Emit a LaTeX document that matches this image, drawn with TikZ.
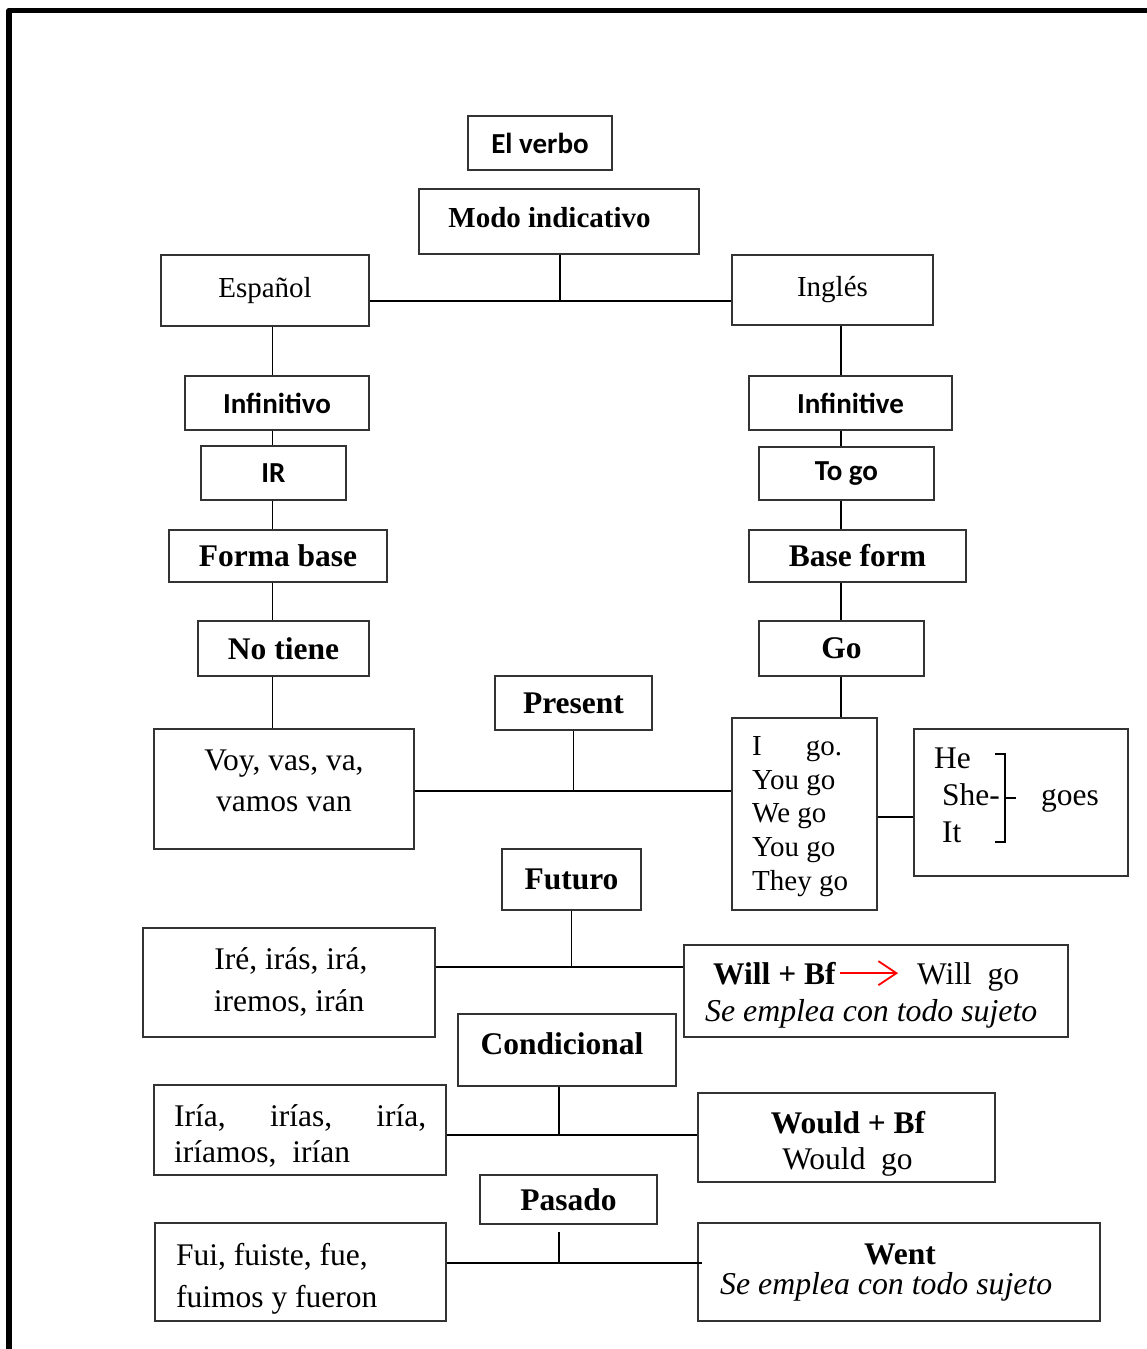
\documentclass[tikz,border=0pt]{standalone}
\usepackage{fontspec}
\setmainfont{Liberation Serif}
\newfontfamily\carlito{Carlito}
\usetikzlibrary{arrows.meta}

\begin{document}
\begin{tikzpicture}[x=1pt,y=-1pt]
        \tikzset{
            caja/.style={draw=black!80,line width=1.3pt,inner sep=0pt},
            texto/.style={inner sep=0pt},
            letra/.style={font=\fontsize{29}{34}\selectfont},
            letra grande/.style={font=\fontsize{31.5}{38}\selectfont},
            negrita/.style={font=\fontsize{31.5}{38}\selectfont\bfseries},
            negrita chica/.style={font=\fontsize{29}{34}\selectfont\bfseries},
            sans negrita/.style={font=\fontsize{29}{34}\selectfont\carlito\bfseries},
            cursiva/.style={font=\fontsize{31.8}{38}\selectfont\itshape},
            linea/.style={line width=1.8pt},
            flecha/.style={red,line width=1.8pt,-{Straight Barb[length=18pt,width=24pt]}}
        };
        \useasboundingbox (0,0) rectangle (1147,1349);
        % marco
        \draw[line width=5.5pt,line join=round] (9,1349) -- (9,10.5) -- (1147,10.5);

        % arriba
        \node[caja,sans negrita,minimum width=144pt,minimum height=54pt] (verbo) at (540,143) {El verbo};
        \node[caja,minimum width=280pt,minimum height=65pt] (modo) at (559,221.5) {};
        \node[texto,negrita chica] (modo1) at (549.5,218) {Modo indicativo};
        \node[caja,letra,minimum width=208pt,minimum height=71pt] (espanol) at (265,290.5) {Español};
        \node[caja,letra,minimum width=201pt,minimum height=70pt] (ingles) at (832.5,290) {Inglés};

        % columna izquierda
        \node[caja,sans negrita,minimum width=184pt,minimum height=54pt] (infinitivo) at (277,403) {Infinitivo};
        \node[caja,sans negrita,minimum width=145pt,minimum height=54pt] (ir) at (273.5,473) {IR};
        \node[caja,negrita,minimum width=218pt,minimum height=52pt] (formabase) at (278,556) {Forma base};
        \node[caja,negrita,minimum width=171pt,minimum height=55pt] (notiene) at (283.5,648.5) {No tiene};
        \node[caja,minimum width=260pt,minimum height=120pt] (voy) at (284,789) {};
        \node[texto,letra grande,anchor=base] (voy1) at (284,770) {Voy, vas, va,};
        \node[texto,letra grande,anchor=base] (voy2) at (284,811) {vamos van};

        % columna derecha
        \node[caja,sans negrita,minimum width=203pt,minimum height=54pt] (infinitive) at (850.5,403) {Infinitive};
        \node[caja,sans negrita,minimum width=175pt,minimum height=53pt] (togo) at (846.5,473.5) {To go};
        \node[caja,negrita,minimum width=217pt,minimum height=52pt] (baseform) at (857.5,556) {Base form};
        \node[caja,negrita,minimum width=165pt,minimum height=55pt] (go) at (841.5,648.5) {Go};
        \node[caja,minimum width=145pt,minimum height=192pt] (igo) at (804.5,814) {};
        \node[texto,letra,anchor=base west] (igo1) at (752,755) {I\hspace*{44pt}go.};
        \node[texto,letra,anchor=base west] (igo2) at (752,789) {You go};
        \node[texto,letra,anchor=base west] (igo3) at (752,822) {We go};
        \node[texto,letra,anchor=base west] (igo4) at (752,856) {You go};
        \node[texto,letra,anchor=base west] (igo5) at (752,890) {They go};
        \node[caja,minimum width=214pt,minimum height=147pt] (he) at (1021,802.5) {};
        \node[texto,letra grande,anchor=base west] (he1) at (934,768) {He};
        \node[texto,letra grande,anchor=base west] (he2) at (942,805) {She-};
        \node[texto,letra grande,anchor=base west] (he3) at (942,842) {It};
        \node[texto,letra grande,anchor=base west] (goes) at (1041,805) {goes};
        \draw[line width=1.6pt] (995,754) -- (1005,754) -- (1005,842) -- (995,842);
        \draw[line width=1.6pt] (1005,798) -- (1016,798);

        % tiempos
        \node[caja,negrita,minimum width=157pt,minimum height=54pt] (present) at (573.5,703) {Present};
        \node[caja,negrita,minimum width=139pt,minimum height=61pt] (futuro) at (571.5,879.5) {Futuro};
        \node[caja,minimum width=292pt,minimum height=109pt] (ire) at (289,982.5) {};
        \node[texto,letra grande,anchor=base] (ire1) at (291,969) {Iré, irás, irá,};
        \node[texto,letra grande,anchor=base] (ire2) at (289,1011) {iremos, irán};
        \node[caja,minimum width=384pt,minimum height=92pt] (will) at (876,991) {};
        \node[texto,negrita,anchor=base west] (willbf) at (713,984) {Will + Bf};
        \node[texto,letra grande,anchor=base west] (willgo) at (917,984) {Will\ \ go};
        \node[texto,cursiva,anchor=base west] (emplea1) at (705,1021) {Se emplea con todo sujeto};
        \draw[flecha] ([xshift=4pt]willbf.east) -- ([xshift=-19pt]willbf.east -| willgo.west);

        \node[caja,minimum width=218pt,minimum height=72pt] (condicional) at (567,1050) {};
        \node[texto,negrita] (condicional1) at (562,1044) {Condicional};
        \node[caja,minimum width=292pt,minimum height=90pt] (iria) at (300,1130) {};
        \node[texto,letra grande,anchor=base west] (iria1) at (174,1126) {\hbox to 252pt{Iría,\hfill irías,\hfill iría,}};
        \node[texto,letra grande,anchor=base west] (iria2) at (174,1162) {iríamos,\ \ irían};
        \node[caja,minimum width=297pt,minimum height=89pt] (would) at (846.5,1137.5) {};
        \node[texto,negrita,anchor=base] (would1) at (848,1133) {Would + Bf};
        \node[texto,letra grande,anchor=base] (would2) at (847.5,1169) {Would\ \ go};

        \node[caja,negrita,minimum width=177pt,minimum height=49pt] (pasado) at (568.5,1199.5) {Pasado};
        \node[caja,minimum width=291pt,minimum height=98pt] (fui) at (300.5,1272) {};
        \node[texto,letra grande,anchor=base west] (fui1) at (176,1265) {Fui, fuiste, fue,};
        \node[texto,letra grande,anchor=base west] (fui2) at (176,1307) {fuimos y fueron};
        \node[caja,minimum width=402pt,minimum height=98pt] (went) at (899,1272) {};
        \node[texto,negrita,anchor=base] (went1) at (900,1264) {Went};
        \node[texto,cursiva,anchor=base west] (emplea2) at (720,1294) {Se emplea con todo sujeto};

        % conectores
        \coordinate (izq) at (272.5,0);
        \coordinate (der) at (841,0);
        \coordinate (cruce1) at (560,301);
        \coordinate (cruce2) at (574,791);
        \coordinate (cruce3) at (895,817);
        \coordinate (cruce4) at (574,967);
        \coordinate (cruce5) at (559,1135);
        \coordinate (pasado1) at (559,1232);
        \coordinate (cruce6) at (559,1263);
        \draw[linea] (modo.south -| cruce1) -- (cruce1);
        \draw[linea] (espanol.east |- cruce1) -- (ingles.west |- cruce1);
        \foreach \a/\b in {espanol/infinitivo,infinitivo/ir,ir/formabase,formabase/notiene,notiene/voy}
            \draw[linea] (\a.south -| izq) -- (\b.north -| izq);
        \foreach \a/\b in {ingles/infinitive,infinitive/togo,togo/baseform,baseform/go,go/igo}
            \draw[linea] (\a.south -| der) -- (\b.north -| der);
        \draw[linea] (present.south) -- (present.south |- cruce2);
        \draw[linea] (voy.east |- cruce2) -- (igo.west |- cruce2);
        \draw[linea] (igo.east |- cruce3) -- (he.west |- cruce3);
        \draw[linea] (futuro.south) -- (futuro.south |- cruce4);
        \draw[linea] (ire.east |- cruce4) -- (will.west |- cruce4);
        \draw[linea] (condicional.south -| cruce5) -- (cruce5);
        \draw[linea] (iria.east |- cruce5) -- (would.west |- cruce5);
        \draw[linea] (pasado1) -- (cruce6);
        \draw[linea] (fui.east |- cruce6) -- ([xshift=5pt]went.west |- cruce6);
    \end{tikzpicture}
\end{document}
